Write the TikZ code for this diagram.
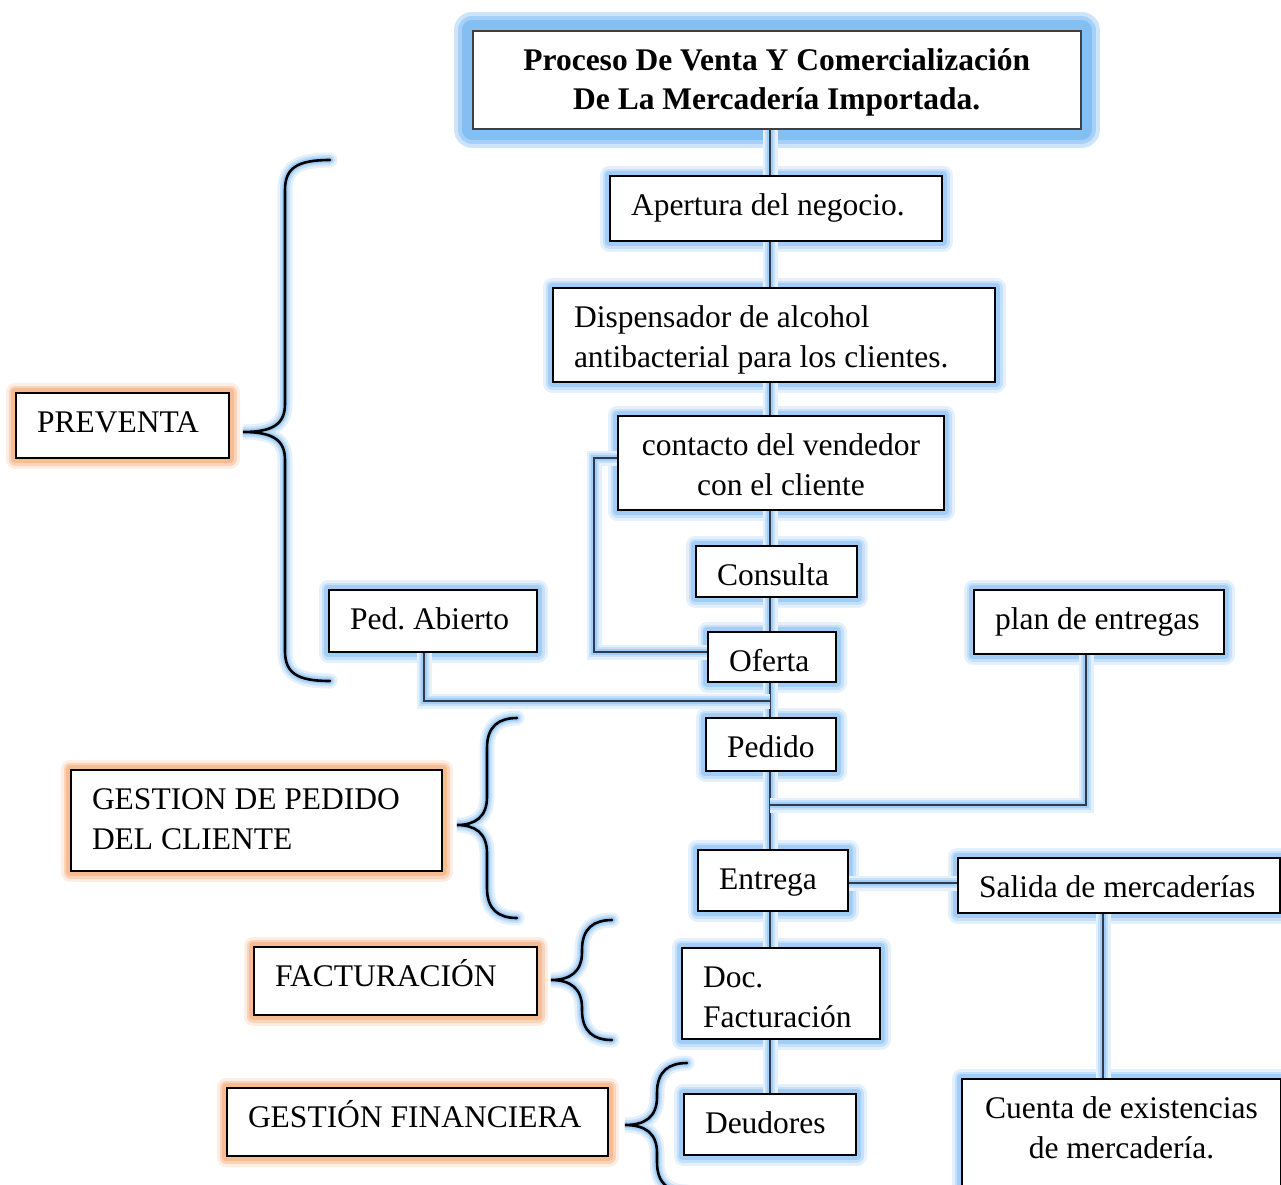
\documentclass[tikz,border=0pt]{standalone}
\usepackage{fontspec}
\setmainfont{Liberation Serif}
\usetikzlibrary{calc}
\pgfdeclarelayer{bg}
\pgfsetlayers{bg,main}
\definecolor{gbA}{HTML}{E4F1FD}
\definecolor{gbB}{HTML}{C4E0FA}
\definecolor{gbC}{HTML}{A2CDF6}
\definecolor{tbA}{HTML}{CDE5FB}
\definecolor{tbB}{HTML}{A6D0F7}
\definecolor{tbC}{HTML}{84BFF3}
\definecolor{goA}{HTML}{FDEDE2}
\definecolor{goB}{HTML}{FAD4BA}
\definecolor{goC}{HTML}{F6BC93}
\definecolor{linec}{HTML}{2F3B4C}
\tikzset{
  box/.style={draw=black, line width=2, fill=white, inner ysep=0, anchor=north west,
    text height=39.5, font=\fontsize{31.5}{39.5}\selectfont,
    execute at begin node={\spaceskip=0pt\xspaceskip=0pt\frenchspacing}},
  lbox/.style 2 args={box, inner xsep=21, align=left, text width=#1-42,
    minimum width=#1, text depth=#2-39.5},
  cbox/.style 2 args={box, inner xsep=10, align=center, text width=#1-20,
    minimum width=#1, text depth=#2-39.5},
  conn/.style={draw=linec, line width=2,
    preaction={draw=gbA, line width=15},
    preaction={draw=gbB, line width=10},
    preaction={draw=gbC, line width=6}},
  bracestyle/.style={draw=black, line width=2.6, line cap=round,
    preaction={draw=gbA, line width=15, line cap=round},
    preaction={draw=gbB, line width=10, line cap=round},
    preaction={draw=gbC, line width=6, line cap=round}},
}
\newcommand\mybrace[6]{%
  \draw[bracestyle] (#1,#2) .. controls (#4+12,#2) and (#4,#2+8) .. (#4,#2+30)
    -- (#4,#6-28) .. controls (#4,#6-8) and (#4-12,#6) .. (#5,#6)
    .. controls (#4-12,#6) and (#4,#6+8) .. (#4,#6+28)
    -- (#4,#3-30) .. controls (#4,#3-8) and (#4+12,#3) .. (#1,#3);}
\begin{document}
\begin{tikzpicture}[x=1pt,y=-1pt]
\useasboundingbox (0,0) rectangle (1281,1184);
% main flow
\node[cbox={608}{98}, draw=black!75, line width=1.5,
  font=\bfseries\fontsize{31.5}{39.5}\selectfont] (title) at (472,30)
  {\mbox{Proceso De Venta Y Comercialización}\\\mbox{De La Mercadería Importada.}};
\node[lbox={332}{65}] (apertura) at (609,175) {\mbox{Apertura del negocio.}};
\node[lbox={442}{94}] (disp) at (552,287)
  {\mbox{Dispensador de alcohol}\\\mbox{antibacterial para los clientes.}};
\node[cbox={326}{94}] (contacto) at (617,415) {\mbox{contacto del vendedor}\\\mbox{con el cliente}};
\node[lbox={161}{51}] (consulta) at (695,545) {\mbox{Consulta}};
\node[lbox={128}{50}] (oferta) at (707,631) {\mbox{Oferta}};
\node[lbox={208}{62}] (pedab) at (328,589) {\mbox{Ped. Abierto}};
\node[lbox={250}{64}] (plan) at (973,589) {\mbox{plan de entregas}};
\node[lbox={130}{53}] (pedido) at (705,717) {\mbox{Pedido}};
\node[lbox={150}{61}] (entrega) at (697,849) {\mbox{Entrega}};
\node[lbox={322}{55}] (salida) at (957,857) {\mbox{Salida de mercaderías}};
\node[lbox={198}{91}] (doc) at (681,947) {\mbox{Doc.}\\\mbox{Facturación}};
\node[lbox={172}{61}] (deudores) at (683,1093) {\mbox{Deudores}};
\node[cbox={319}{110}] (cuenta) at (961,1078) {\mbox{Cuenta de existencias}\\\mbox{de mercadería.}};
% left labels
\node[lbox={213}{65}] (preventa) at (15,392) {\mbox{PREVENTA}};
\node[lbox={371}{101}] (gestion) at (70,769) {\mbox{GESTION DE PEDIDO}\\\mbox{DEL CLIENTE}};
\node[lbox={283}{68}] (fact) at (253,946) {\mbox{FACTURACIÓN}};
\node[lbox={381}{68}] (fin) at (226,1087) {\mbox{GESTIÓN FINANCIERA}};
% junction coordinates
\coordinate (spine) at (770,0);
\coordinate (j1) at (770,701);
\coordinate (j2) at (770,805);
\begin{pgfonlayer}{bg}
  \draw[tbA, line width=36, line join=round] (title.north west) rectangle (title.south east);
  \draw[tbB, line width=28, line join=round] (title.north west) rectangle (title.south east);
  \draw[tbC, line width=20, line join=round] (title.north west) rectangle (title.south east);
  \foreach \n in {apertura,disp,contacto,consulta,oferta,pedab,plan,pedido,entrega,salida,doc,deudores,cuenta}{
    \draw[gbA, line width=19, line join=round] (\n.north west) rectangle (\n.south east);
    \draw[gbB, line width=13, line join=round] (\n.north west) rectangle (\n.south east);
    \draw[gbC, line width=8, line join=round] (\n.north west) rectangle (\n.south east);
  }
  \foreach \n in {preventa,gestion,fact,fin}{
    \draw[goA, line width=19, line join=round] (\n.north west) rectangle (\n.south east);
    \draw[goB, line width=13, line join=round] (\n.north west) rectangle (\n.south east);
    \draw[goC, line width=8, line join=round] (\n.north west) rectangle (\n.south east);
  }
  % connectors
  \draw[conn] (spine |- title.south) -- (spine |- apertura.north);
  \draw[conn] (spine |- apertura.south) -- (spine |- disp.north);
  \draw[conn] (spine |- disp.south) -- (spine |- contacto.north);
  \draw[conn] (spine |- contacto.south) -- (spine |- consulta.north);
  \draw[conn] (spine |- consulta.south) -- (spine |- oferta.north);
  \draw[conn] (spine |- oferta.south) -- (spine |- pedido.north);
  \draw[conn] (spine |- pedido.south) -- (spine |- entrega.north);
  \draw[conn] (spine |- entrega.south) -- (spine |- doc.north);
  \draw[conn] (spine |- doc.south) -- (spine |- deudores.north);
  \draw[conn] ($(contacto.west)+(0,-5)$) -- ++(-23,0) |- ($(oferta.west)+(0,-5)$);
  \draw[conn] ($(pedab.south)+(-9,0)$) |- (j1);
  \draw[conn] ($(plan.south)+(-13,0)$) |- (j2);
  \draw[conn] ($(entrega.east)+(0,2.5)$) -- ($(entrega.east -| salida.west)+(0,2.5)$);
  \draw[conn] ($(salida.south)+(-16,0)$) -- ($(salida.south |- cuenta.north)+(-16,0)$);
\end{pgfonlayer}
% braces
\mybrace{330}{160}{681}{285}{243}{432}
\mybrace{517}{718}{918}{487}{457}{825}
\mybrace{612}{920}{1040}{582}{551}{980}
\mybrace{687}{1063}{1192}{657}{625}{1125}
\end{tikzpicture}
\end{document}
